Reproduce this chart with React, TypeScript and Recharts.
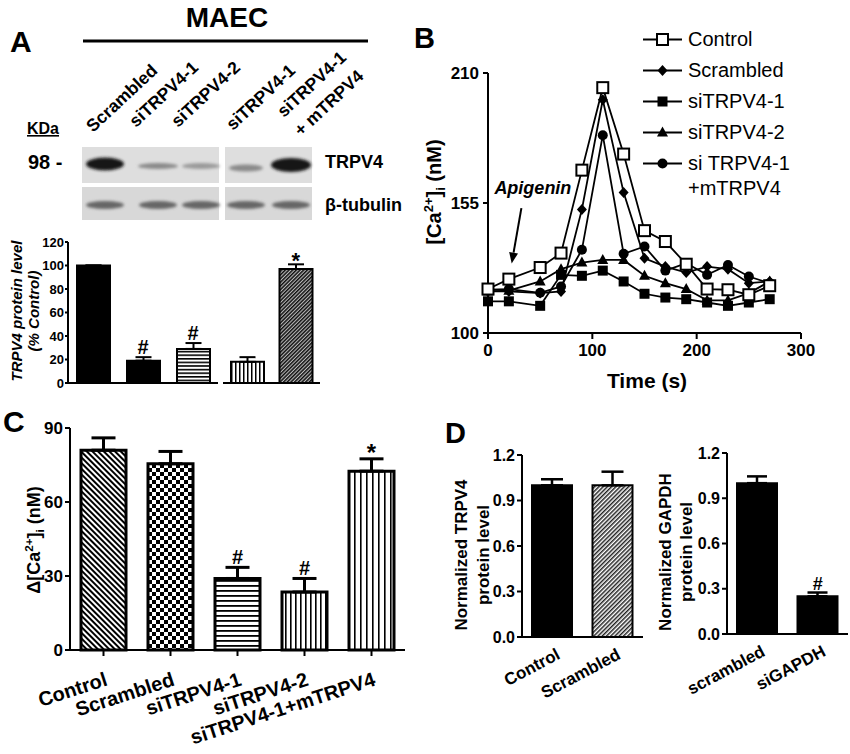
import React from "react";
import {
  BarChart,
  Bar,
  XAxis,
  YAxis,
  ErrorBar,
  Cell,
  ReferenceDot,
  LineChart,
  Line,
  Legend,
  ReferenceLine,
} from "recharts";

const FONT = '"Liberation Sans", Arial, Helvetica, sans-serif';

// ---- A: blot densitometry (% of control)
const aLeftNames = ["Scrambled", "siTRPV4-1", "siTRPV4-2"];
const aLeftValues = [100, 19, 29];
const aLeftErrors = [0, 3, 5];
const aLeftMarks = ["", "#", "#"];
const aRightNames = ["siTRPV4-1", "siTRPV4-1 + mTRPV4"];
const aRightValues = [18, 97];
const aRightErrors = [4, 4];
const aRightMarks = ["", "*"];
const aTicks = [0, 20, 40, 60, 80, 100, 120];

// ---- B: [Ca2+]i time course
const bTimes = [0, 20, 50, 70, 90, 110, 130, 150, 170, 190, 210, 230, 250, 270];
const bControl = [118.6, 122.8, 127.7, 133.8, 168.9, 203.8, 175.7, 143.3, 138.7, 129.1, 118.6, 118.3, 116.2, 120];
const bScrambled = [117.6, 117.6, 116.9, 117.6, 152.3, 198.7, 159.4, 131.6, 128.1, 125.6, 128.1, 127, 121.1, 121.8];
const bSi1 = [113.4, 113.4, 111.5, 124.6, 124.2, 126.4, 121.8, 116.6, 115, 114.3, 112.9, 111.5, 112.9, 114.3];
const bSi2 = [117.6, 117.9, 121.8, 127, 129.8, 130.9, 130.9, 124.2, 121.1, 118.6, 113.8, 113.8, 116.9, 121.8];
const bRescue = [118.3, 118.6, 117, 119.7, 135.2, 183.7, 133.5, 136.6, 126.4, 129.5, 124.6, 128.8, 123.9, 121.1];
const bXTicks = [0, 100, 200, 300];
const bYTicks = [100, 155, 210];
const apigeninArrow = [
  { x: 32, y: 152.8 },
  { x: 22.7, y: 129.4 },
];

// ---- C: delta [Ca2+]i
const cNames = ["Control", "Scrambled", "siTRPV4-1", "siTRPV4-2", "siTRPV4-1+mTRPV4"];
const cValues = [81, 75.5, 29, 23.5, 72.5];
const cErrors = [5, 5, 4.5, 5.5, 5];
const cMarks = ["", "", "#", "#", "*"];
const cTicks = [0, 30, 60, 90];

// ---- D: normalized protein levels
const dTrpvNames = ["Control", "Scrambled"];
const dTrpvValues = [1.0, 1.0];
const dTrpvErrors = [0.04, 0.09];
const dGapdhNames = ["scrambled", "siGAPDH"];
const dGapdhValues = [1.0, 0.25];
const dGapdhErrors = [0.045, 0.025];
const dGapdhMarks = ["", "#"];
const dTicks = [0, 0.3, 0.6, 0.9, 1.2];

const rows = (names: string[], values: number[], errors: number[], marks?: string[]) =>
  names.map((name, i) => ({ name, value: values[i], err: [0, errors[i]], top: values[i] + errors[i], mark: marks ? marks[i] : "" }));

const aLeftRows = rows(aLeftNames, aLeftValues, aLeftErrors, aLeftMarks);
const aRightRows = rows(aRightNames, aRightValues, aRightErrors, aRightMarks);
const cRows = rows(cNames, cValues, cErrors, cMarks);
const dTrpvRows = rows(dTrpvNames, dTrpvValues, dTrpvErrors);
const dGapdhRows = rows(dGapdhNames, dGapdhValues, dGapdhErrors, dGapdhMarks);

const bRows = bTimes.map((t, i) => ({
  t,
  control: bControl[i],
  scrambled: bScrambled[i],
  si1: bSi1[i],
  si2: bSi2[i],
  rescue: bRescue[i],
}));

const bSeries = [
  { key: "control", name: ["Control"], marker: "openSquare" },
  { key: "scrambled", name: ["Scrambled"], marker: "diamond" },
  { key: "si1", name: ["siTRPV4-1"], marker: "square" },
  { key: "si2", name: ["siTRPV4-2"], marker: "triangle" },
  { key: "rescue", name: ["si TRPV4-1", "+mTRPV4"], marker: "circle" },
];

const aLeftFills = ["#000", "#000", "url(#aHoriz)"];
const aRightFills = ["url(#aVert)", "url(#aDiag)"];
const cFills = ["url(#cDiag)", "url(#cCheck)", "url(#cHoriz)", "url(#cVert)", "url(#cVert2)"];
const dTrpvFills = ["#000", "url(#dDiag)"];

const axisLine = { stroke: "#000", strokeWidth: 2 };
const tickLine = { stroke: "#000", strokeWidth: 2 };
const tickStyle = (size: number) => ({ fill: "#000", fontSize: size, fontWeight: "bold" as const, fontFamily: FONT });

function marker(kind: string, cx: number, cy: number, key?: any) {
  switch (kind) {
    case "openSquare":
      return <rect key={key} x={cx - 5.5} y={cy - 5.5} width={11} height={11} fill="#fff" stroke="#000" strokeWidth={2} />;
    case "diamond":
      return <polygon key={key} points={`${cx},${cy - 5.5} ${cx + 5},${cy} ${cx},${cy + 5.5} ${cx - 5},${cy}`} fill="#000" />;
    case "square":
      return <rect key={key} x={cx - 5} y={cy - 5} width={10} height={10} fill="#000" />;
    case "triangle":
      return <polygon key={key} points={`${cx},${cy - 6} ${cx + 5.5},${cy + 4} ${cx - 5.5},${cy + 4}`} fill="#000" />;
    default:
      return <circle key={key} cx={cx} cy={cy} r={5} fill="#000" />;
  }
}

const markShape = (text: string, size: number, lift: number) => (p: any) => (
  <text x={p.cx} y={p.cy - lift} textAnchor="middle" fontFamily={FONT} fontWeight="bold" fontSize={size} fill="#000">
    {text}
  </text>
);

const rotatedTick = (angle: number, dx: number, dy: number, size: number) => (p: any) => (
  <g transform={`translate(${p.x + dx},${p.y + dy})`}>
    <text textAnchor="end" transform={`rotate(${angle})`} fontFamily={FONT} fontWeight="bold" fontSize={size} fill="#000">
      {p.payload.value}
    </text>
  </g>
);

// recharts hands x / y to label elements, so positions go in under other names
function RotTitle({ posX, posY, size, lines, italic }: any) {
  return (
    <g>
      {lines.map((l: string, i: number) => (
        <text
          key={i}
          x={posX[i]}
          y={posY}
          transform={`rotate(-90, ${posX[i]}, ${posY})`}
          textAnchor="middle"
          fontFamily={FONT}
          fontSize={size}
          fontWeight="bold"
          fontStyle={italic ? "italic" : "normal"}
          fill="#000"
        >
          {l}
        </text>
      ))}
    </g>
  );
}

function CaTitle({ posX, posY, size, delta }: any) {
  const s = size * 0.65;
  return (
    <text x={posX} y={posY} transform={`rotate(-90, ${posX}, ${posY})`} textAnchor="middle" fontFamily={FONT} fontWeight="bold" fontSize={size} fill="#000">
      {delta ? "\u0394" : ""}[Ca
      <tspan dy={-size * 0.38} fontSize={s}>2+</tspan>
      <tspan dy={size * 0.38}>]</tspan>
      <tspan dy={size * 0.22} fontSize={s}>i</tspan>
      <tspan dy={-size * 0.22}> (nM)</tspan>
    </text>
  );
}

function FlatTitle({ posX, posY, size, text }: any) {
  return (
    <text x={posX} y={posY} textAnchor="middle" fontFamily={FONT} fontWeight="bold" fontSize={size} fill="#000">
      {text}
    </text>
  );
}

function ArrowShape(p: any) {
  const { x1, y1, x2, y2 } = p;
  const ang = Math.atan2(y2 - y1, x2 - x1);
  const len = 11;
  const hw = 4.5;
  const bx = x2 - len * Math.cos(ang);
  const by = y2 - len * Math.sin(ang);
  const nx = -Math.sin(ang) * hw;
  const ny = Math.cos(ang) * hw;
  return (
    <g>
      <line x1={x1} y1={y1} x2={bx} y2={by} stroke="#000" strokeWidth={2} />
      <polygon points={`${x2},${y2} ${bx + nx},${by + ny} ${bx - nx},${by - ny}`} fill="#000" />
      <text x={x1 - 27} y={y1 - 14} fontFamily={FONT} fontWeight="bold" fontStyle="italic" fontSize={18} fill="#000">
        Apigenin
      </text>
    </g>
  );
}

function BLegend() {
  return (
    <div style={{ fontFamily: FONT, fontSize: 20, color: "#000" }}>
      {bSeries.map((s) => (
        <div key={s.key} style={{ display: "flex", alignItems: "flex-start", height: s.name.length > 1 ? 52 : 31 }}>
          <svg width={45} height={31} style={{ flexShrink: 0 }}>
            <line x1={0} x2={39} y1={15.5} y2={15.5} stroke="#000" strokeWidth={2} />
            {marker(s.marker, 19.5, 15.5)}
          </svg>
          <div style={{ lineHeight: "25px", paddingTop: 3 }}>
            {s.name.map((n) => (
              <div key={n}>{n}</div>
            ))}
          </div>
        </div>
      ))}
    </div>
  );
}

// blot lanes (decoration, drawn as an image)
const blotBands = [
  { cx: 105, rx: 19, ry: 6.5, c: "#151515", cy: 164 },
  { cx: 158, rx: 20, ry: 3, c: "#8a8a8a", cy: 166 },
  { cx: 201, rx: 19, ry: 3, c: "#9a9a9a", cy: 166 },
  { cx: 246, rx: 17, ry: 3.5, c: "#8a8a8a", cy: 168 },
  { cx: 291, rx: 20, ry: 7, c: "#151515", cy: 165 },
];
const laneLabels = [
  { x: 93, y: 133, t: "Scrambled" },
  { x: 136, y: 128, t: "siTRPV4-1" },
  { x: 178, y: 128, t: "siTRPV4-2" },
  { x: 233, y: 131, t: "siTRPV4-1" },
  { x: 284, y: 118, t: "siTRPV4-1" },
  { x: 301, y: 137, t: "+ mTRPV4" },
];

function Overlay() {
  return (
    <svg width={850} height={754} style={{ position: "absolute", left: 0, top: 0 }}>
      <defs>
        <pattern id="aHoriz" width={4} height={3.6} patternUnits="userSpaceOnUse">
          <rect width={4} height={3.6} fill="#fff" />
          <rect width={4} height={1.6} fill="#000" />
        </pattern>
        <pattern id="aVert" width={4} height={4} patternUnits="userSpaceOnUse">
          <rect width={4} height={4} fill="#fff" />
          <rect width={1.5} height={4} fill="#000" />
        </pattern>
        <pattern id="aDiag" width={2.6} height={2.6} patternUnits="userSpaceOnUse" patternTransform="rotate(45)">
          <rect width={2.6} height={2.6} fill="#bbb" />
          <rect width={1.5} height={2.6} fill="#111" />
        </pattern>
        <pattern id="cDiag" width={4} height={4} patternUnits="userSpaceOnUse" patternTransform="rotate(-45)">
          <rect width={4} height={4} fill="#fff" />
          <rect width={2} height={4} fill="#000" />
        </pattern>
        <pattern id="cCheck" width={8} height={8} patternUnits="userSpaceOnUse">
          <rect width={8} height={8} fill="#fff" />
          <rect width={4} height={4} fill="#000" />
          <rect x={4} y={4} width={4} height={4} fill="#000" />
        </pattern>
        <pattern id="cHoriz" width={5} height={5} patternUnits="userSpaceOnUse">
          <rect width={5} height={5} fill="#fff" />
          <rect width={5} height={1.8} fill="#000" />
        </pattern>
        <pattern id="cVert" width={5} height={5} patternUnits="userSpaceOnUse">
          <rect width={5} height={5} fill="#fff" />
          <rect width={1.6} height={5} fill="#000" />
        </pattern>
        <pattern id="cVert2" width={6} height={6} patternUnits="userSpaceOnUse">
          <rect width={6} height={6} fill="#fff" />
          <rect width={1.6} height={6} fill="#000" />
        </pattern>
        <pattern id="dDiag" width={3} height={3} patternUnits="userSpaceOnUse" patternTransform="rotate(45)">
          <rect width={3} height={3} fill="#fff" />
          <rect width={1.5} height={3} fill="#222" />
        </pattern>
        <filter id="blur" x="-20%" y="-50%" width="140%" height="200%">
          <feGaussianBlur stdDeviation={1.6} />
        </filter>
      </defs>

      <g fontFamily={FONT} fontWeight="bold" fill="#000">
        <text x={10} y={52} fontSize={30}>A</text>
        <text x={414} y={48} fontSize={29}>B</text>
        <text x={3} y={432} fontSize={30}>C</text>
        <text x={445} y={443} fontSize={29}>D</text>
        <text x={227} y={27} fontSize={28} textAnchor="middle">MAEC</text>
      </g>
      <line x1={83} x2={368} y1={41} y2={41} stroke="#000" strokeWidth={3} />

      {/* blot */}
      <rect x={82} y={147} width={137} height={36} fill="#dedede" />
      <rect x={225} y={147} width={87} height={36} fill="#dedede" />
      <rect x={82} y={187} width={137} height={33} fill="#d8d8d8" />
      <rect x={225} y={187} width={87} height={33} fill="#d8d8d8" />
      <g filter="url(#blur)">
        {blotBands.map((b, i) => (
          <ellipse key={i} cx={b.cx} cy={b.cy} rx={b.rx} ry={b.ry} fill={b.c} />
        ))}
        {blotBands.map((b, i) => (
          <ellipse key={"t" + i} cx={b.cx} cy={205} rx={19} ry={4} fill="#666" />
        ))}
      </g>

      <g fontFamily={FONT} fontWeight="bold" fill="#000">
        {laneLabels.map((l, i) => (
          <text key={i} x={l.x} y={l.y} fontSize={17.5} transform={`rotate(-43, ${l.x}, ${l.y})`}>
            {l.t}
          </text>
        ))}
        <text x={27} y={134} fontSize={16} textDecoration="underline">KDa</text>
        <text x={28} y={169} fontSize={20}>98 -</text>
        <text x={325} y={168} fontSize={18}>TRPV4</text>
        <text x={325} y={211} fontSize={18}>{"\u03B2-tubulin"}</text>
      </g>
    </svg>
  );
}

export default function App() {
  return (
    <div style={{ position: "absolute", left: 0, top: 0, width: 850, height: 754, background: "#fff", overflow: "hidden" }}>
      <Overlay />

      {/* A: left group */}
      <div style={{ position: "absolute", left: 0, top: 232 }}>
        <BarChart width={220} height={160} data={aLeftRows} margin={{ top: 10, right: 2, left: 0, bottom: 0 }} barSize={33}>
          <XAxis dataKey="name" tick={false} tickLine={false} axisLine={axisLine} height={9} />
          <YAxis
            domain={[0, 120]}
            ticks={aTicks}
            width={68}
            tickSize={3}
            tickMargin={1}
            axisLine={axisLine}
            tickLine={tickLine}
            tick={tickStyle(13)}
            label={<RotTitle posX={[22, 39]} posY={79} size={15} italic lines={["TRPV4 protein level", "(% Control)"]} />}
          />
          <Bar dataKey="value" stroke="#000" strokeWidth={2} isAnimationActive={false}>
            {aLeftRows.map((r, i) => (
              <Cell key={r.name} fill={aLeftFills[i]} />
            ))}
            <ErrorBar dataKey="err" width={8} strokeWidth={2} stroke="#000" />
          </Bar>
          {aLeftRows
            .filter((r) => r.mark)
            .map((r) => (
              <ReferenceDot key={r.name} x={r.name} y={r.top} r={0} ifOverflow="visible" shape={markShape(r.mark, 20, 3)} />
            ))}
        </BarChart>
      </div>

      {/* A: right group */}
      <div style={{ position: "absolute", left: 223, top: 232 }}>
        <BarChart width={97} height={160} data={aRightRows} margin={{ top: 10, right: 0, left: 0, bottom: 0 }} barSize={33}>
          <XAxis dataKey="name" tick={false} tickLine={false} axisLine={axisLine} height={9} />
          <YAxis hide domain={[0, 120]} />
          <Bar dataKey="value" stroke="#000" strokeWidth={2} isAnimationActive={false}>
            {aRightRows.map((r, i) => (
              <Cell key={r.name} fill={aRightFills[i]} />
            ))}
            <ErrorBar dataKey="err" width={8} strokeWidth={2} stroke="#000" />
          </Bar>
          {aRightRows
            .filter((r) => r.mark)
            .map((r) => (
              <ReferenceDot key={r.name} x={r.name} y={r.top} r={0} ifOverflow="visible" shape={markShape(r.mark, 22, -4)} />
            ))}
        </BarChart>
      </div>

      {/* B */}
      <div style={{ position: "absolute", left: 420, top: 0 }}>
        <LineChart width={430} height={400} data={bRows} margin={{ top: 73, right: 49, left: 0, bottom: 0 }}>
          <XAxis
            dataKey="t"
            type="number"
            domain={[0, 300]}
            ticks={bXTicks}
            height={67}
            tickSize={6}
            tickMargin={5}
            axisLine={axisLine}
            tickLine={tickLine}
            tick={tickStyle(17)}
            label={<FlatTitle posX={227} posY={388} size={21} text="Time (s)" />}
          />
          <YAxis
            domain={[100, 210]}
            ticks={bYTicks}
            width={68}
            tickSize={5}
            tickMargin={4}
            axisLine={axisLine}
            tickLine={tickLine}
            tick={tickStyle(17)}
            label={<CaTitle posX={21} posY={192} size={20} />}
          />
          <ReferenceLine segment={apigeninArrow} ifOverflow="visible" shape={ArrowShape} />
          {[...bSeries].reverse().map((s) => (
            <Line
              key={s.key}
              dataKey={s.key}
              name={s.name.join(" ")}
              stroke="#000"
              strokeWidth={1.8}
              isAnimationActive={false}
              dot={(p: any) => marker(s.marker, p.cx, p.cy, p.index)}
              activeDot={false}
            />
          ))}
          <Legend
            layout="vertical"
            align="center"
            verticalAlign="middle"
            content={<BLegend />}
            wrapperStyle={{ left: 223, top: 24, width: 205 }}
          />
        </LineChart>
      </div>

      {/* C */}
      <div style={{ position: "absolute", left: 0, top: 400 }}>
        <BarChart width={430} height={354} data={cRows} margin={{ top: 28, right: 25, left: 10, bottom: 0 }} barSize={45}>
          <XAxis
            dataKey="name"
            height={104}
            interval={0}
            tickSize={6}
            tickMargin={0}
            axisLine={axisLine}
            tickLine={tickLine}
            tick={rotatedTick(-18, 5, 29, 20)}
          />
          <YAxis
            domain={[0, 90]}
            ticks={cTicks}
            width={60}
            tickSize={5}
            tickMargin={2}
            axisLine={axisLine}
            tickLine={tickLine}
            tick={tickStyle(17)}
            label={<CaTitle posX={40} posY={140} size={18} delta />}
          />
          <Bar dataKey="value" stroke="#000" strokeWidth={3} isAnimationActive={false}>
            {cRows.map((r, i) => (
              <Cell key={r.name} fill={cFills[i]} />
            ))}
            <ErrorBar dataKey="err" width={12} strokeWidth={3} stroke="#000" />
          </Bar>
          {cRows
            .filter((r) => r.mark)
            .map((r) => (
              <ReferenceDot
                key={r.name}
                x={r.name}
                y={r.top}
                r={0}
                ifOverflow="visible"
                shape={markShape(r.mark, r.mark === "*" ? 24 : 20, r.mark === "*" ? -2 : 3)}
              />
            ))}
        </BarChart>
      </div>

      {/* D: TRPV4 */}
      <div style={{ position: "absolute", left: 430, top: 400 }}>
        <BarChart width={215} height={354} data={dTrpvRows} margin={{ top: 55, right: 2, left: 0, bottom: 0 }} barSize={40}>
          <XAxis
            dataKey="name"
            height={117}
            interval={0}
            tickSize={0}
            tickMargin={0}
            axisLine={axisLine}
            tickLine={false}
            tick={rotatedTick(-28, 9, 21, 17)}
          />
          <YAxis
            domain={[0, 1.2]}
            ticks={dTicks}
            width={92}
            tickSize={5}
            tickMargin={2}
            axisLine={axisLine}
            tickLine={tickLine}
            tick={tickStyle(16)}
            tickFormatter={(v: number) => v.toFixed(1)}
            label={<RotTitle posX={[37, 59]} posY={155} size={17} lines={["Normalized TRPV4", "protein level"]} />}
          />
          <Bar dataKey="value" stroke="#000" strokeWidth={2} isAnimationActive={false}>
            {dTrpvRows.map((r, i) => (
              <Cell key={r.name} fill={dTrpvFills[i]} />
            ))}
            <ErrorBar dataKey="err" width={11} strokeWidth={2.5} stroke="#000" />
          </Bar>
        </BarChart>
      </div>

      {/* D: GAPDH */}
      <div style={{ position: "absolute", left: 645, top: 400 }}>
        <BarChart width={205} height={354} data={dGapdhRows} margin={{ top: 53, right: 2, left: 0, bottom: 0 }} barSize={40}>
          <XAxis
            dataKey="name"
            height={120}
            interval={0}
            tickSize={0}
            tickMargin={0}
            axisLine={axisLine}
            tickLine={false}
            tick={rotatedTick(-28, 9, 21, 17)}
          />
          <YAxis
            domain={[0, 1.2]}
            ticks={dTicks}
            width={82}
            tickSize={5}
            tickMargin={2}
            axisLine={axisLine}
            tickLine={tickLine}
            tick={tickStyle(16)}
            tickFormatter={(v: number) => v.toFixed(1)}
            label={<RotTitle posX={[26, 47]} posY={152} size={17} lines={["Normalized GAPDH", "protein level"]} />}
          />
          <Bar dataKey="value" fill="#000" stroke="#000" strokeWidth={2} isAnimationActive={false}>
            <ErrorBar dataKey="err" width={10} strokeWidth={2.5} stroke="#000" />
          </Bar>
          {dGapdhRows
            .filter((r) => r.mark)
            .map((r) => (
              <ReferenceDot key={r.name} x={r.name} y={r.top} r={0} ifOverflow="visible" shape={markShape(r.mark, 18, 3)} />
            ))}
        </BarChart>
      </div>
    </div>
  );
}
